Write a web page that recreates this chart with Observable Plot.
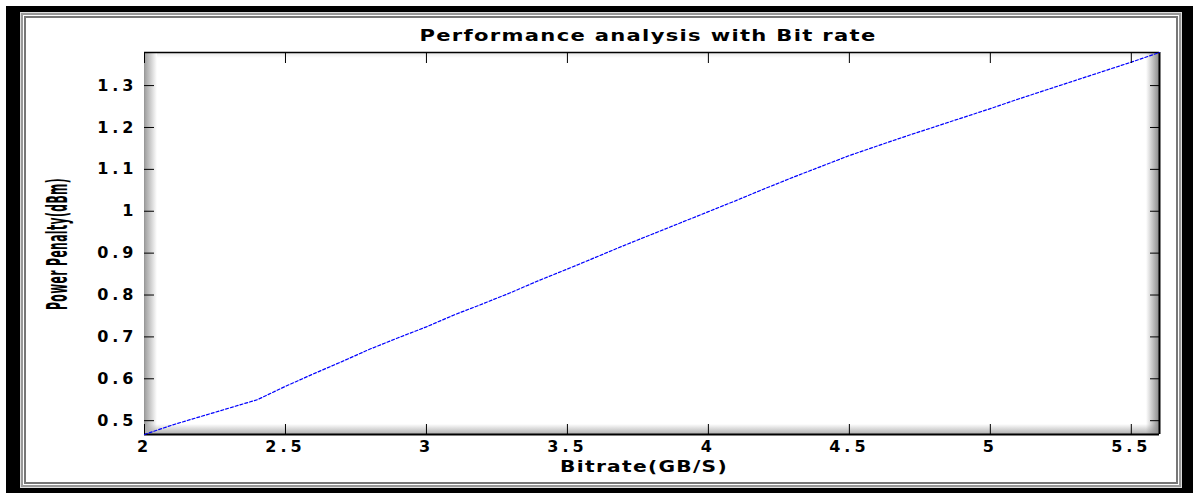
<!DOCTYPE html>
<html>
<head>
<meta charset="utf-8">
<script src="https://cdn.jsdelivr.net/npm/d3@7"></script>
<script src="https://cdn.jsdelivr.net/npm/@observablehq/plot@0.6"></script>
<style>
  html, body { margin: 0; padding: 0; background: #fff; }
  body { width: 1193px; height: 493px; position: relative; overflow: hidden; }
  .frame {
    position: absolute; left: 6px; top: 6px; width: 1187px; height: 487px; box-sizing: border-box;
    border-style: solid; border-color: #000;
    border-width: 6px 11px 5px 14px;
    box-shadow: inset 0 0 0 1px #ddd, inset 0 0 0 3px #999, inset 0 0 0 4px #fff, inset 0 0 0 6px #777;
  }
  .shade { position: absolute; }
  .txt {
    position: absolute; white-space: nowrap; font-family: "DejaVu Sans", sans-serif; font-weight: bold;
    color: #000; line-height: 1; letter-spacing: 1px;
  }
  #chart { position: absolute; left: 0; top: 0; }
</style>
</head>
<body>
<div class="frame"></div>
<div class="shade" style="left:144px;top:52px;width:1015px;height:6px;background:linear-gradient(to bottom,#e4e4e4,rgba(255,255,255,0));"></div>
<div class="shade" style="left:144px;top:52px;width:13px;height:382px;background:linear-gradient(to right,#9a9a9a,#ffffff);"></div>
<div class="shade" style="left:144px;top:424px;width:1015px;height:10px;background:linear-gradient(to top,#b0b0b0,rgba(255,255,255,0));"></div>
<div class="shade" style="left:1146px;top:52px;width:13px;height:382px;background:linear-gradient(to left,#8a8a8a,rgba(255,255,255,0));"></div>
<div id="chart"></div>
<script>
// Data
const bitrate = [2.0, 2.1, 2.2, 2.3, 2.4, 2.5, 2.6, 2.7, 2.8, 2.9, 3.0, 3.1, 3.2, 3.3, 3.4, 3.5, 3.6, 3.7, 3.8, 3.9,
                 4.0, 4.1, 4.2, 4.3, 4.4, 4.5, 4.6, 4.7, 4.8, 4.9, 5.0, 5.1, 5.2, 5.3, 5.4, 5.5, 5.6];
const powerPenalty = [0.467, 0.490, 0.510, 0.530, 0.550, 0.582, 0.612, 0.641, 0.671, 0.698, 0.724, 0.753, 0.779, 0.806,
                      0.835, 0.862, 0.890, 0.918, 0.945, 0.972, 0.999, 1.026, 1.054, 1.081, 1.107, 1.133, 1.156, 1.179,
                      1.201, 1.223, 1.245, 1.268, 1.290, 1.312, 1.334, 1.356, 1.379];
const xTicks = [2, 2.5, 3, 3.5, 4, 4.5, 5, 5.5];
const yTicks = [0.5, 0.6, 0.7, 0.8, 0.9, 1, 1.1, 1.2, 1.3];
const titleText = "Performance analysis with Bit rate";
const xLabelText = "Bitrate(GB/S)";
const yLabelText = "Power Penalty(dBm)";

const data = bitrate.map((b, i) => ({bitrate: b, penalty: powerPenalty[i]}));
const xDomain = d3.extent(bitrate);
const yDomain = d3.extent(powerPenalty);
const fmt = d3.format("~g");

const chart = Plot.plot({
  width: 1193,
  height: 493,
  marginLeft: 144,
  marginRight: 34,
  marginTop: 52,
  marginBottom: 59,
  x: {domain: xDomain},
  y: {domain: yDomain},
  style: {background: "transparent", fontFamily: "DejaVu Sans, sans-serif", fontWeight: "bold", fontSize: "16px", letterSpacing: "4px", color: "#000"},
  marks: [
    Plot.ruleX([xDomain[0]], {stroke: "#999", strokeWidth: 1}),
    Plot.ruleY([yDomain[1]], {stroke: "#000", strokeWidth: 1.5}),
    Plot.ruleY([yDomain[0]], {stroke: "#000", strokeWidth: 2}),
    Plot.ruleX([xDomain[1]], {stroke: "#000", strokeWidth: 2}),
    Plot.line(data, {x: "bitrate", y: "penalty", stroke: "#0000ff", strokeWidth: 1.2, strokeDasharray: "3,2"}),
    Plot.axisX({ticks: xTicks, tickFormat: fmt, anchor: "bottom", tickSize: -10, tickPadding: 16, label: null}),
    Plot.axisX({ticks: xTicks, anchor: "top", tickSize: -10, fill: "none", label: null}),
    Plot.axisY({ticks: yTicks, tickFormat: fmt, anchor: "left", tickSize: -10, tickPadding: 17, label: null}),
    Plot.axisY({ticks: yTicks, anchor: "right", tickSize: -10, fill: "none", label: null})
  ]
});
document.getElementById("chart").appendChild(chart);

// Text labels (title, axis labels), fitted to the reference widths
function addLabel(text, fontSize, cx, cy, targetLen, rotate) {
  const holder = document.createElement("div");
  holder.style.position = "absolute";
  holder.style.left = cx + "px";
  holder.style.top = cy + "px";
  holder.style.width = "0"; holder.style.height = "0";
  const span = document.createElement("div");
  span.className = "txt";
  span.style.fontSize = fontSize + "px";
  span.textContent = text;
  holder.appendChild(span);
  document.body.appendChild(holder);
  const w = span.offsetWidth;
  const s = targetLen / w;
  span.style.transform = `translate(-50%, -50%) ${rotate ? "rotate(-90deg) " : ""}scaleX(${s})`;
}
addLabel(titleText, 16, 648, 36, 457, false);
addLabel(xLabelText, 16, 644, 467, 168, false);
addLabel(yLabelText, 28, 58, 244, 132, true);
</script>
</body>
</html>
